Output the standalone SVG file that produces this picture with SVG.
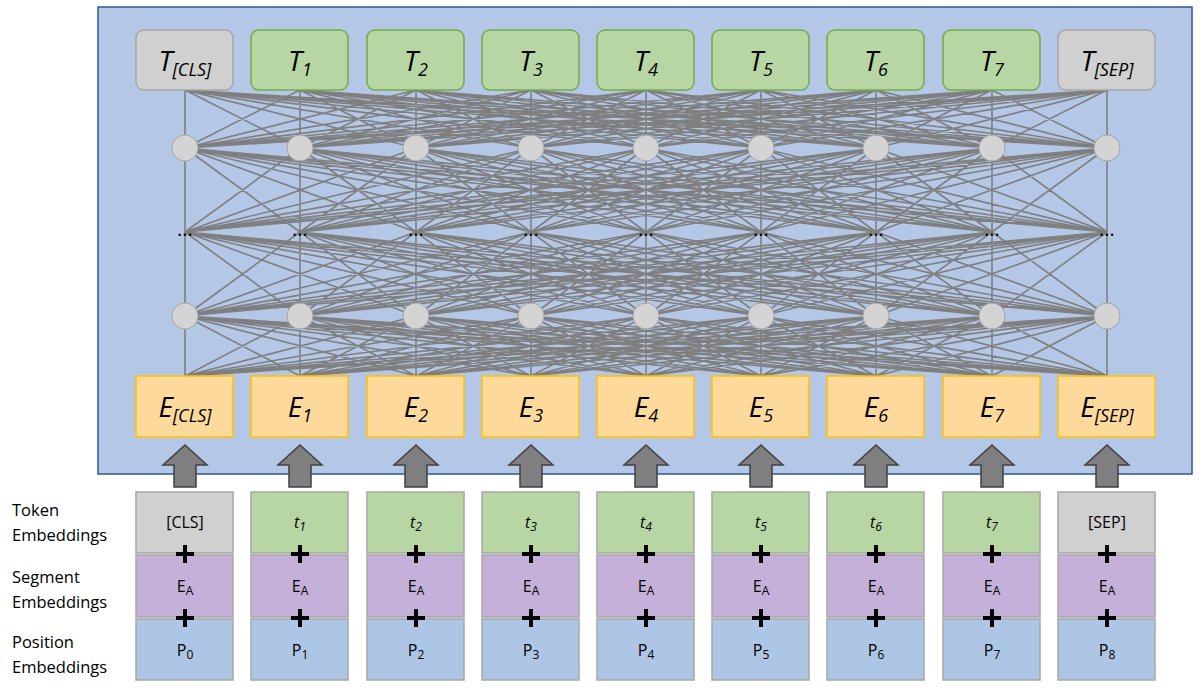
<svg xmlns="http://www.w3.org/2000/svg" xmlns:xlink="http://www.w3.org/1999/xlink" width="1200" height="694" viewBox="0 0 1200 694">
<style>
text{font-family:"Open Sans","Liberation Sans",sans-serif;fill:#000}
.big{font-size:28px;font-style:italic;text-anchor:middle}
.sub{font-size:18px}
.sm{font-size:16px;text-anchor:middle}
.lbl{font-size:16.5px}
.tg{fill:#d0d0d0;stroke:#a6a6a6;stroke-width:1.5}
.tgr{fill:#b7d6a3;stroke:#70ad47;stroke-width:1.5}
.e{fill:#fdda9c;stroke:#ffc000;stroke-width:1.5}
.bg{fill:#d0d0d0;stroke:#a6a6a6;stroke-width:1.5}
.bgr{fill:#b7d6a3;stroke:#a6a6a6;stroke-width:1.5}
.seg{fill:#c4b0d8;stroke:#a6a6a6;stroke-width:1.5}
.pos{fill:#adc6e6;stroke:#a6a6a6;stroke-width:1.5}
.c{fill:#d4d4d4;stroke:#a6a6a6;stroke-width:1}
.ar{fill:#7f7f7f;stroke:#404040;stroke-width:1.5}
.pl{stroke:#000;stroke-width:4}
.dots{font-size:20px;text-anchor:middle}
</style>
<defs>
<path id="layer" fill="none" stroke="#7f7f7f" stroke-width="1.6" vector-effect="non-scaling-stroke" d="M185 0L185 1M185 0L300 1M185 0L416 1M185 0L531 1M185 0L646 1M185 0L761 1M185 0L876 1M185 0L992 1M185 0L1107 1M300 0L185 1M300 0L300 1M300 0L416 1M300 0L531 1M300 0L646 1M300 0L761 1M300 0L876 1M300 0L992 1M300 0L1107 1M416 0L185 1M416 0L300 1M416 0L416 1M416 0L531 1M416 0L646 1M416 0L761 1M416 0L876 1M416 0L992 1M416 0L1107 1M531 0L185 1M531 0L300 1M531 0L416 1M531 0L531 1M531 0L646 1M531 0L761 1M531 0L876 1M531 0L992 1M531 0L1107 1M646 0L185 1M646 0L300 1M646 0L416 1M646 0L531 1M646 0L646 1M646 0L761 1M646 0L876 1M646 0L992 1M646 0L1107 1M761 0L185 1M761 0L300 1M761 0L416 1M761 0L531 1M761 0L646 1M761 0L761 1M761 0L876 1M761 0L992 1M761 0L1107 1M876 0L185 1M876 0L300 1M876 0L416 1M876 0L531 1M876 0L646 1M876 0L761 1M876 0L876 1M876 0L992 1M876 0L1107 1M992 0L185 1M992 0L300 1M992 0L416 1M992 0L531 1M992 0L646 1M992 0L761 1M992 0L876 1M992 0L992 1M992 0L1107 1M1107 0L185 1M1107 0L300 1M1107 0L416 1M1107 0L531 1M1107 0L646 1M1107 0L761 1M1107 0L876 1M1107 0L992 1M1107 0L1107 1"/>
<path id="arrow" class="ar" d="M0 0L22 20L11 20L11 42L-11 42L-11 20L-22 20Z"/>
<g id="plus"><path class="pl" d="M-9 0H9M0 -9V9"/></g>
</defs>
<rect x="98" y="7" width="1094" height="467" fill="#b4c7e7" stroke="#2f5597" stroke-width="1.5"/>
<g id="connectors">
<use xlink:href="#layer" transform="translate(0,90) scale(1,58)"/>
<use xlink:href="#layer" transform="translate(0,148) scale(1,84)"/>
<use xlink:href="#layer" transform="translate(0,232) scale(1,84)"/>
<use xlink:href="#layer" transform="translate(0,316) scale(1,60)"/>
<use xlink:href="#arrow" x="185" y="445"/><use xlink:href="#arrow" x="300" y="445"/><use xlink:href="#arrow" x="416" y="445"/><use xlink:href="#arrow" x="531" y="445"/><use xlink:href="#arrow" x="646" y="445"/><use xlink:href="#arrow" x="761" y="445"/><use xlink:href="#arrow" x="876" y="445"/><use xlink:href="#arrow" x="992" y="445"/><use xlink:href="#arrow" x="1107" y="445"/>
</g>
<g id="hidden-nodes">
<circle class="c" cx="185" cy="148" r="13"/><circle class="c" cx="300" cy="148" r="13"/><circle class="c" cx="416" cy="148" r="13"/><circle class="c" cx="531" cy="148" r="13"/><circle class="c" cx="646" cy="148" r="13"/><circle class="c" cx="761" cy="148" r="13"/><circle class="c" cx="876" cy="148" r="13"/><circle class="c" cx="992" cy="148" r="13"/><circle class="c" cx="1107" cy="148" r="13"/>
<circle class="c" cx="185" cy="316" r="13"/><circle class="c" cx="300" cy="316" r="13"/><circle class="c" cx="416" cy="316" r="13"/><circle class="c" cx="531" cy="316" r="13"/><circle class="c" cx="646" cy="316" r="13"/><circle class="c" cx="761" cy="316" r="13"/><circle class="c" cx="876" cy="316" r="13"/><circle class="c" cx="992" cy="316" r="13"/><circle class="c" cx="1107" cy="316" r="13"/>
<text class="dots" x="185" y="236">...</text><text class="dots" x="300" y="236">...</text><text class="dots" x="416" y="236">...</text><text class="dots" x="531" y="236">...</text><text class="dots" x="646" y="236">...</text><text class="dots" x="761" y="236">...</text><text class="dots" x="876" y="236">...</text><text class="dots" x="992" y="236">...</text><text class="dots" x="1107" y="236">...</text>
</g>
<g id="T-CLS"><rect class="tg" x="136" y="30" width="97" height="60" rx="8"/><text class="big" x="185" y="71">T<tspan class="sub" dy="5">[CLS]</tspan></text></g>
<g id="T1"><rect class="tgr" x="251" y="30" width="97" height="60" rx="8"/><text class="big" x="300" y="71">T<tspan class="sub" dy="5">1</tspan></text></g>
<g id="T2"><rect class="tgr" x="367" y="30" width="97" height="60" rx="8"/><text class="big" x="416" y="71">T<tspan class="sub" dy="5">2</tspan></text></g>
<g id="T3"><rect class="tgr" x="482" y="30" width="97" height="60" rx="8"/><text class="big" x="531" y="71">T<tspan class="sub" dy="5">3</tspan></text></g>
<g id="T4"><rect class="tgr" x="597" y="30" width="97" height="60" rx="8"/><text class="big" x="646" y="71">T<tspan class="sub" dy="5">4</tspan></text></g>
<g id="T5"><rect class="tgr" x="712" y="30" width="97" height="60" rx="8"/><text class="big" x="761" y="71">T<tspan class="sub" dy="5">5</tspan></text></g>
<g id="T6"><rect class="tgr" x="827" y="30" width="97" height="60" rx="8"/><text class="big" x="876" y="71">T<tspan class="sub" dy="5">6</tspan></text></g>
<g id="T7"><rect class="tgr" x="943" y="30" width="97" height="60" rx="8"/><text class="big" x="992" y="71">T<tspan class="sub" dy="5">7</tspan></text></g>
<g id="T-SEP"><rect class="tg" x="1058" y="30" width="97" height="60" rx="8"/><text class="big" x="1107" y="71">T<tspan class="sub" dy="5">[SEP]</tspan></text></g>
<g id="E-CLS"><rect class="e" x="136" y="376" width="97" height="61"/><text class="big" x="185" y="417">E<tspan class="sub" dy="5">[CLS]</tspan></text></g>
<g id="E1"><rect class="e" x="251" y="376" width="97" height="61"/><text class="big" x="300" y="417">E<tspan class="sub" dy="5">1</tspan></text></g>
<g id="E2"><rect class="e" x="367" y="376" width="97" height="61"/><text class="big" x="416" y="417">E<tspan class="sub" dy="5">2</tspan></text></g>
<g id="E3"><rect class="e" x="482" y="376" width="97" height="61"/><text class="big" x="531" y="417">E<tspan class="sub" dy="5">3</tspan></text></g>
<g id="E4"><rect class="e" x="597" y="376" width="97" height="61"/><text class="big" x="646" y="417">E<tspan class="sub" dy="5">4</tspan></text></g>
<g id="E5"><rect class="e" x="712" y="376" width="97" height="61"/><text class="big" x="761" y="417">E<tspan class="sub" dy="5">5</tspan></text></g>
<g id="E6"><rect class="e" x="827" y="376" width="97" height="61"/><text class="big" x="876" y="417">E<tspan class="sub" dy="5">6</tspan></text></g>
<g id="E7"><rect class="e" x="943" y="376" width="97" height="61"/><text class="big" x="992" y="417">E<tspan class="sub" dy="5">7</tspan></text></g>
<g id="E-SEP"><rect class="e" x="1058" y="376" width="97" height="61"/><text class="big" x="1107" y="417">E<tspan class="sub" dy="5">[SEP]</tspan></text></g>
<g id="labels">
<text class="lbl" x="12" y="516">Token</text><text class="lbl" x="12" y="541">Embeddings</text>
<text class="lbl" x="12" y="583">Segment</text><text class="lbl" x="12" y="608">Embeddings</text>
<text class="lbl" x="12" y="648">Position</text><text class="lbl" x="12" y="673">Embeddings</text>
</g>
<g id="token-embeddings">
<rect class="bg" x="136" y="492" width="97" height="61"/><text class="sm" x="185" y="528">[CLS]</text>
<rect class="bgr" x="251" y="492" width="97" height="61"/><text class="sm" x="300" y="528" font-style="italic">t<tspan font-size="12" dy="3">1</tspan></text>
<rect class="bgr" x="367" y="492" width="97" height="61"/><text class="sm" x="416" y="528" font-style="italic">t<tspan font-size="12" dy="3">2</tspan></text>
<rect class="bgr" x="482" y="492" width="97" height="61"/><text class="sm" x="531" y="528" font-style="italic">t<tspan font-size="12" dy="3">3</tspan></text>
<rect class="bgr" x="597" y="492" width="97" height="61"/><text class="sm" x="646" y="528" font-style="italic">t<tspan font-size="12" dy="3">4</tspan></text>
<rect class="bgr" x="712" y="492" width="97" height="61"/><text class="sm" x="761" y="528" font-style="italic">t<tspan font-size="12" dy="3">5</tspan></text>
<rect class="bgr" x="827" y="492" width="97" height="61"/><text class="sm" x="876" y="528" font-style="italic">t<tspan font-size="12" dy="3">6</tspan></text>
<rect class="bgr" x="943" y="492" width="97" height="61"/><text class="sm" x="992" y="528" font-style="italic">t<tspan font-size="12" dy="3">7</tspan></text>
<rect class="bg" x="1058" y="492" width="97" height="61"/><text class="sm" x="1107" y="528">[SEP]</text>
</g>
<g id="segment-embeddings">
<rect class="seg" x="136" y="555" width="97" height="62"/><text class="sm" x="185" y="592">E<tspan font-size="12" dy="3">A</tspan></text>
<rect class="seg" x="251" y="555" width="97" height="62"/><text class="sm" x="300" y="592">E<tspan font-size="12" dy="3">A</tspan></text>
<rect class="seg" x="367" y="555" width="97" height="62"/><text class="sm" x="416" y="592">E<tspan font-size="12" dy="3">A</tspan></text>
<rect class="seg" x="482" y="555" width="97" height="62"/><text class="sm" x="531" y="592">E<tspan font-size="12" dy="3">A</tspan></text>
<rect class="seg" x="597" y="555" width="97" height="62"/><text class="sm" x="646" y="592">E<tspan font-size="12" dy="3">A</tspan></text>
<rect class="seg" x="712" y="555" width="97" height="62"/><text class="sm" x="761" y="592">E<tspan font-size="12" dy="3">A</tspan></text>
<rect class="seg" x="827" y="555" width="97" height="62"/><text class="sm" x="876" y="592">E<tspan font-size="12" dy="3">A</tspan></text>
<rect class="seg" x="943" y="555" width="97" height="62"/><text class="sm" x="992" y="592">E<tspan font-size="12" dy="3">A</tspan></text>
<rect class="seg" x="1058" y="555" width="97" height="62"/><text class="sm" x="1107" y="592">E<tspan font-size="12" dy="3">A</tspan></text>
</g>
<g id="position-embeddings">
<rect class="pos" x="136" y="619" width="97" height="61"/><text class="sm" x="185" y="656">P<tspan font-size="12" dy="3">0</tspan></text>
<rect class="pos" x="251" y="619" width="97" height="61"/><text class="sm" x="300" y="656">P<tspan font-size="12" dy="3">1</tspan></text>
<rect class="pos" x="367" y="619" width="97" height="61"/><text class="sm" x="416" y="656">P<tspan font-size="12" dy="3">2</tspan></text>
<rect class="pos" x="482" y="619" width="97" height="61"/><text class="sm" x="531" y="656">P<tspan font-size="12" dy="3">3</tspan></text>
<rect class="pos" x="597" y="619" width="97" height="61"/><text class="sm" x="646" y="656">P<tspan font-size="12" dy="3">4</tspan></text>
<rect class="pos" x="712" y="619" width="97" height="61"/><text class="sm" x="761" y="656">P<tspan font-size="12" dy="3">5</tspan></text>
<rect class="pos" x="827" y="619" width="97" height="61"/><text class="sm" x="876" y="656">P<tspan font-size="12" dy="3">6</tspan></text>
<rect class="pos" x="943" y="619" width="97" height="61"/><text class="sm" x="992" y="656">P<tspan font-size="12" dy="3">7</tspan></text>
<rect class="pos" x="1058" y="619" width="97" height="61"/><text class="sm" x="1107" y="656">P<tspan font-size="12" dy="3">8</tspan></text>
</g>
<g id="plus-signs">
<use xlink:href="#plus" x="185" y="554"/><use xlink:href="#plus" x="300" y="554"/><use xlink:href="#plus" x="416" y="554"/><use xlink:href="#plus" x="531" y="554"/><use xlink:href="#plus" x="646" y="554"/><use xlink:href="#plus" x="761" y="554"/><use xlink:href="#plus" x="876" y="554"/><use xlink:href="#plus" x="992" y="554"/><use xlink:href="#plus" x="1107" y="554"/>
<use xlink:href="#plus" x="185" y="618"/><use xlink:href="#plus" x="300" y="618"/><use xlink:href="#plus" x="416" y="618"/><use xlink:href="#plus" x="531" y="618"/><use xlink:href="#plus" x="646" y="618"/><use xlink:href="#plus" x="761" y="618"/><use xlink:href="#plus" x="876" y="618"/><use xlink:href="#plus" x="992" y="618"/><use xlink:href="#plus" x="1107" y="618"/>
</g>
</svg>
